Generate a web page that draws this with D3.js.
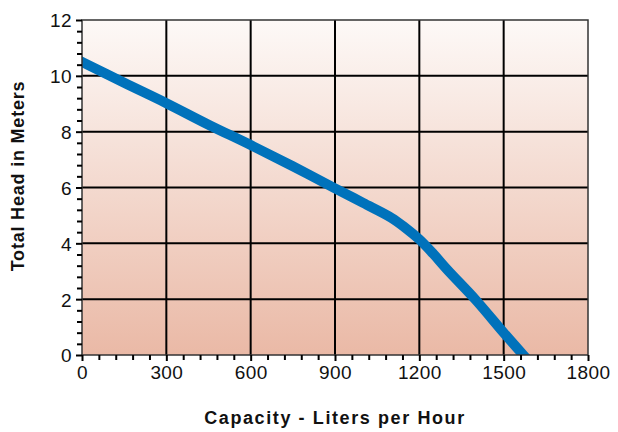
<!DOCTYPE html>
<html><head><meta charset="utf-8">
<script src="https://cdn.jsdelivr.net/npm/d3@7"></script>
<style>body{margin:0;background:#fff}svg{display:block}text{font-family:"Liberation Sans",Arial,Helvetica,sans-serif}</style>
</head><body><svg id="c" width="618" height="432"></svg>
<script>
const capacity = [0,150,300,450,600,750,900,1000,1100,1150,1200,1250,1300,1400,1500,1570];
const head     = [10.5,9.75,9.02,8.25,7.52,6.76,5.97,5.45,4.92,4.56,4.14,3.62,3.05,1.98,0.8,0];
const xTicks = [0,300,600,900,1200,1500,1800];
const yTicks = [0,2,4,6,8,10,12];
const xTitle = "Capacity - Liters per Hour";
const yTitle = "Total Head in Meters";

const svg = d3.select("#c");
const L=82,R=588,T=20,B=355;
const x = d3.scaleLinear().domain([0,1800]).range([L,R]);
const y = d3.scaleLinear().domain([0,12]).range([B,T]);

const defs = svg.append("defs");
const g = defs.append("linearGradient").attr("id","bg").attr("x1",0).attr("y1",0).attr("x2",0).attr("y2",1);
g.append("stop").attr("offset","0%").attr("stop-color","#fdf9f7");
g.append("stop").attr("offset","100%").attr("stop-color","#eab9a6");
defs.append("clipPath").attr("id","clip").append("rect").attr("x",L).attr("y",T).attr("width",R-L).attr("height",B-T);

svg.append("rect").attr("x",L).attr("y",T).attr("width",R-L).attr("height",B-T).attr("fill","url(#bg)");

// grid
svg.append("g").selectAll("line").data(xTicks.slice(1,-1)).join("line")
  .attr("x1",d=>x(d)).attr("x2",d=>x(d)).attr("y1",T).attr("y2",B).attr("stroke","#000").attr("stroke-width",2);
svg.append("g").selectAll("line").data(yTicks.slice(1,-1)).join("line")
  .attr("y1",d=>y(d)).attr("y2",d=>y(d)).attr("x1",L).attr("x2",R).attr("stroke","#000").attr("stroke-width",2);

// curve
const line = d3.line().x((d,i)=>x(capacity[i])).y((d,i)=>y(head[i])).curve(d3.curveCatmullRom.alpha(0.5));
svg.append("path").datum(head).attr("d",line).attr("fill","none").attr("stroke","#0072bb")
  .attr("stroke-width",10).attr("stroke-linecap","square").attr("clip-path","url(#clip)");

// frame
svg.append("rect").attr("x",L).attr("y",T).attr("width",R-L).attr("height",B-T).attr("fill","none").attr("stroke","#333").attr("stroke-width",1.5);

// axes
const xAxis = d3.axisBottom(x).tickValues(xTicks).tickSize(6).tickPadding(5).tickFormat(d3.format("d"));
const xa = svg.append("g").attr("transform",`translate(0,${B})`).call(xAxis);
const xMinor = d3.axisBottom(x).tickValues(d3.range(0,1801,60).filter(v=>v%300)).tickSize(5).tickFormat("");
const xm = svg.append("g").attr("transform",`translate(0,${B})`).call(xMinor);
const yAxis = d3.axisLeft(y).tickValues(yTicks).tickSize(6).tickPadding(4);
const ya = svg.append("g").attr("transform",`translate(${L},0)`).call(yAxis);
const yMinor = d3.axisLeft(y).tickValues(d3.range(0,12.01,0.4).filter(v=>Math.abs(v/2-Math.round(v/2))>0.01)).tickSize(5).tickFormat("");
const ym = svg.append("g").attr("transform",`translate(${L},0)`).call(yMinor);
[xa,xm,ya,ym].forEach(a=>{a.select(".domain").remove();a.selectAll("line").attr("stroke","#000").attr("stroke-width",2);});
[xa,ya].forEach(a=>a.selectAll("text").attr("font-size",19).attr("letter-spacing","0.4px").attr("fill","#111").attr("font-family","Liberation Sans, Arial, sans-serif"));
ya.selectAll("text").attr("dy","0.36em");

svg.append("text").attr("x",(L+R)/2).attr("y",424).attr("text-anchor","middle").attr("font-size",18).attr("letter-spacing","1.6px").attr("font-weight","bold").attr("fill","#111").text(xTitle);
svg.append("text").attr("transform",`translate(24,${176}) rotate(-90)`).attr("text-anchor","middle").attr("font-size",18).attr("letter-spacing","0.8px").attr("font-weight","bold").attr("fill","#111").text(yTitle);
</script></body></html>
